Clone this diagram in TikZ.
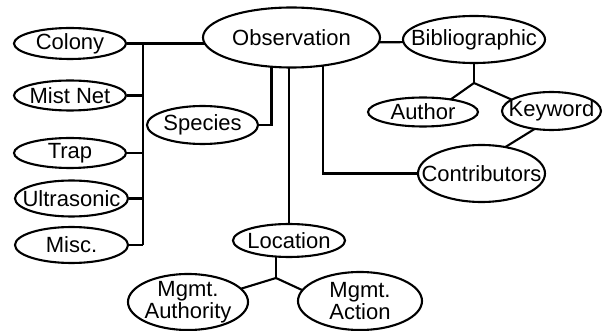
\documentclass[tikz,border=0pt]{standalone}
\usepackage{fontspec}
\setmainfont{Liberation Sans}
\usetikzlibrary{shapes.geometric,backgrounds,calc}
\tikzset{
  ent/.style={ellipse, draw=black, fill=white, line width=2.1pt, inner sep=0pt},
  conn/.style={draw=black, line width=2.1pt},
  every label/.style={font=\fontsize{22}{18}\selectfont, align=center, inner sep=0pt, text=black}
}
\begin{document}
\begin{tikzpicture}[x=1pt,y=-1pt]
\useasboundingbox (0,0) rectangle (606,331);
% nodes
\node[ent, minimum width=112pt, minimum height=31pt, label=center:Colony] (colony) at (70,43.5) {};
\node[ent, minimum width=112pt, minimum height=30pt, label=center:Mist Net] (mist) at (70,95.5) {};
\node[ent, minimum width=112pt, minimum height=30pt, label=center:Trap] (trap) at (70,153) {};
\node[ent, minimum width=113pt, minimum height=36pt, label=center:Ultrasonic] (ultra) at (71.5,198.5) {};
\node[ent, minimum width=113pt, minimum height=36pt, label=center:Misc.] (misc) at (71.5,245) {};
\node[ent, minimum width=177pt, minimum height=60pt, label=center:Observation] (obs) at (291.5,37.5) {};
\node[ent, minimum width=111pt, minimum height=38pt, label=center:Species] (species) at (202.5,125) {};
\node[ent, minimum width=142pt, minimum height=47pt, label=center:Bibliographic] (bib) at (474,39.5) {};
\node[ent, minimum width=110pt, minimum height=29pt, label=center:Author] (author) at (423,112) {};
\node[ent, minimum width=99pt, minimum height=38pt, label=center:Keyword] (keyword) at (551.5,111) {};
\node[ent, minimum width=127pt, minimum height=57pt, label=center:Contributors] (contrib) at (481.5,173.5) {};
\node[ent, minimum width=112pt, minimum height=33pt, label=center:Location] (location) at (289,240.5) {};
\node[ent, minimum width=120pt, minimum height=56pt, label=center:Mgmt.\\Authority] (auth) at (188,302) {};
\node[ent, minimum width=124pt, minimum height=58pt, label=center:Mgmt.\\Action] (action) at (360,301) {};
% coordinates
\coordinate (bus) at (143,43.5);
\coordinate (j1) at ($(bib)+(0,43.5)$);
\coordinate (j2) at ($(location)+(-13,37.5)$);
% connectors
\begin{pgfonlayer}{background}
\draw[conn] (colony) -- (colony -| obs);
\draw[conn] (bus) -- (bus |- misc);
\draw[conn] (mist) -- (mist -| bus);
\draw[conn] (trap) -- (trap -| bus);
\draw[conn] (ultra) -- (ultra -| bus);
\draw[conn] (misc) -- (misc -| bus);
\draw[conn] (species) -| ($(obs)+(-20,0)$);
\draw[conn] (obs -| location) -- (location);
\draw[conn] ($(obs)+(31.5,0)$) |- (contrib);
\draw[conn] ($(obs)+(0,5)$) -- ($(bib)+(0,2.5)$);
\draw[conn] (bib) -- (j1);
\draw[conn] (j1) -- ($(author)+(25.5,-11)$);
\draw[conn] (j1) -- ($(keyword)+(-26.5,-5.5)$);
\draw[conn] ($(keyword)+(-10.5,14)$) -- ($(contrib)+(17.5,-22.5)$);
\draw[conn] ($(location)+(-13,0)$) -- (j2);
\draw[conn] (j2) -- ($(auth)+(39,-9)$);
\draw[conn] (j2) -- ($(action)+(-45,-5)$);
\end{pgfonlayer}
\end{tikzpicture}
\end{document}
